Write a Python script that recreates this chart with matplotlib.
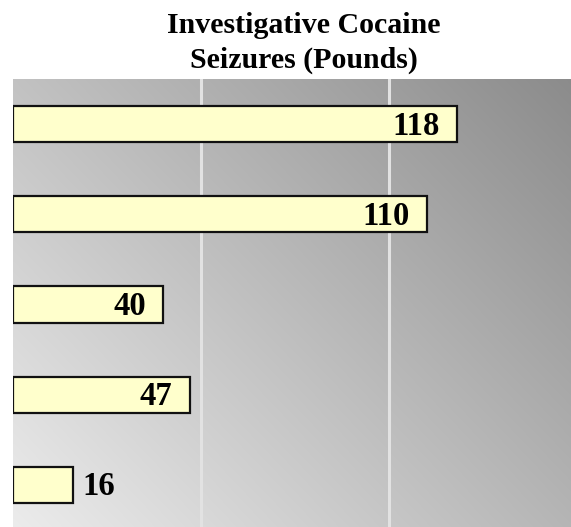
import numpy as np
import matplotlib
matplotlib.use("Agg")
import matplotlib.pyplot as plt

# Investigative cocaine seizures, in pounds (top to bottom)
categories = ["A", "B", "C", "D", "E"]
pounds = [118, 110, 40, 47, 16]
grid_values = [50, 100]
title_lines = ["Investigative Cocaine", "Seizures (Pounds)"]

W, H = 571, 527
fig = plt.figure(figsize=(W / 100, H / 100), dpi=100)
fig.patch.set_facecolor("white")

px = 3.76  # pixels per pound
x_max = 150
ax = fig.add_axes([13 / W, -3 / H, x_max * px / W, 451 / H])
ax.set_xlim(0, x_max)
ax.set_ylim(len(categories) - 0.5, -0.5)

# diagonal gray gradient: light at lower left, dark at upper right
nx, ny = 300, 300
u = np.linspace(0, 1, nx)[None, :]
v = np.linspace(1, 0, ny)[:, None]
gray = (236 - 55 * u - 42 * v) / 255.0
img = np.dstack([gray, gray, gray])
ax.imshow(img, extent=[0, x_max, len(categories) - 0.5, -0.5],
          aspect="auto", zorder=0, interpolation="bilinear")

for g in grid_values:
    ax.axvline(g, color="#e2e2e2", lw=2.2, zorder=1)

y = np.arange(len(categories))
ax.barh(y, pounds, height=0.4, color="#ffffcc", edgecolor="#111111",
        linewidth=1.6, zorder=2)

font = {"family": "Liberation Serif", "weight": "bold", "size": 23.5}
for yi, val in zip(y, pounds):
    if val >= 30:
        ax.annotate(str(val), (val, yi), xytext=(-12.5, -1.5), textcoords="offset points",
                    ha="right", va="center", zorder=3, **font)
    else:
        ax.annotate(str(val), (val, yi), xytext=(6.5, -1.5), textcoords="offset points",
                    ha="left", va="center", zorder=3, **font)

ax.set_xticks([])
ax.set_yticks([])
for s in ax.spines.values():
    s.set_visible(False)

for i, line in enumerate(title_lines):
    fig.text(304 / W, 1 - (33 + 35 * i) / H, line,
             ha="center", va="baseline", family="Liberation Serif", weight="bold",
             size=21.5)

fig.savefig("out.png", dpi=100)
